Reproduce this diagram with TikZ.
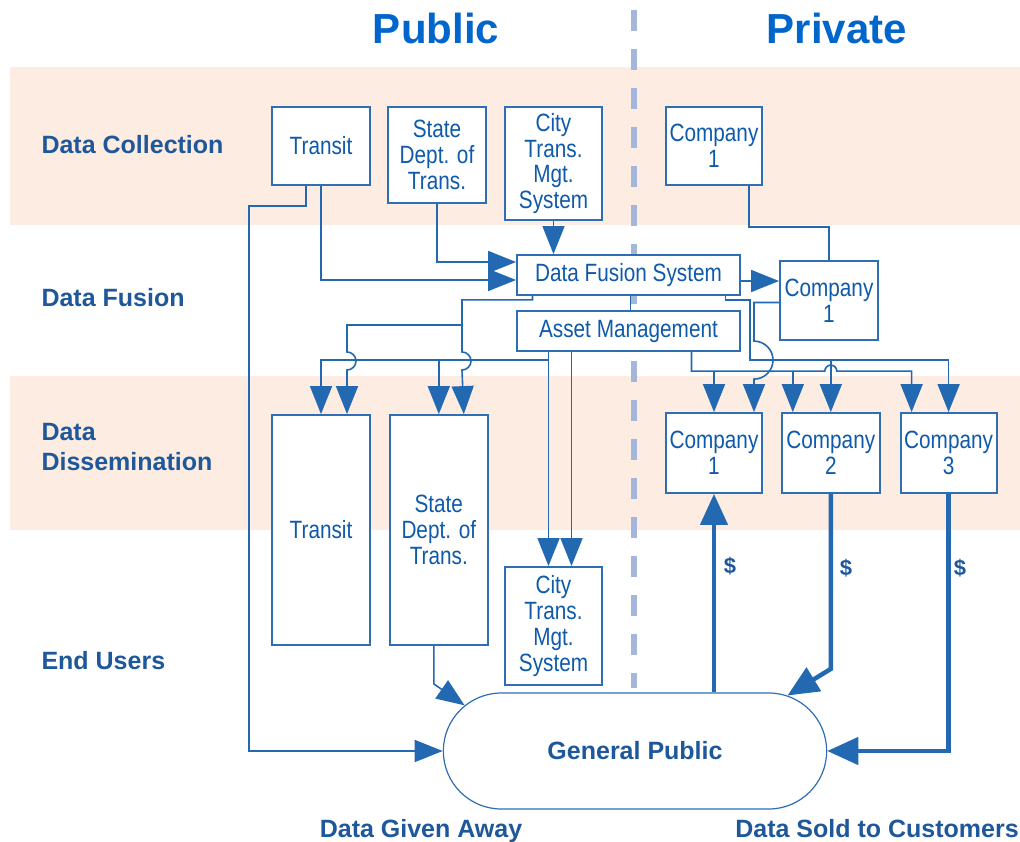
\documentclass[tikz,border=0pt]{standalone}
\usepackage{fontspec}
\setmainfont{Liberation Sans}
\newfontfamily\boxfont[FakeStretch=0.83]{Liberation Sans}
\usetikzlibrary{positioning}
\usetikzlibrary{arrows.meta}
\usetikzlibrary{shapes.misc}
\definecolor{band}{RGB}{253,236,225}
\definecolor{divider}{RGB}{164,182,220}
\definecolor{boxline}{RGB}{45,110,180}
\definecolor{boxtext}{RGB}{15,90,170}
\definecolor{flowline}{RGB}{35,105,178}
\definecolor{rowtext}{RGB}{30,88,155}
\definecolor{headtext}{RGB}{0,102,204}

\begin{document}
\begin{tikzpicture}[x=1pt, y=-1pt, node distance=18pt,
  >={Triangle[width=22pt,length=28pt]},
  box/.style 2 args={draw=boxline, line width=1.8pt, fill=white, inner sep=0pt, align=center,
    text=boxtext, font=\boxfont\fontsize{25}{25.7}\selectfont,
    minimum width=#1pt, minimum height=#2pt},
  flow/.style={draw=flowline, line width=1.6pt, ->},
  link/.style={draw=flowline, line width=1.6pt},
  money/.style={draw=flowline, line width=4.5pt, >={Triangle[width=27pt,length=31pt]}},
  rowlabel/.style={anchor=west, align=left, text=rowtext, font=\bfseries\fontsize{25}{30}\selectfont},
  head/.style={text=headtext, font=\bfseries\fontsize{42}{48}\selectfont},
  foot/.style={anchor=base, text=rowtext, font=\bfseries\fontsize{25}{30}\selectfont},
  dollar/.style={text=rowtext, font=\bfseries\fontsize{22}{26}\selectfont}]
\useasboundingbox (0,0) rectangle (1020,842);

% bands and divider
\fill[band] (10,67) rectangle (1020,225);
\fill[band] (10,376) rectangle (1020,530);
\draw[divider, line width=6pt, dash pattern=on 21pt off 18pt] (634,10) -- (634,688);

% headings
\node[head] (public-head) at (436,28) {Public};
\node[head] (private-head) at (837,28) {Private};

\node[rowlabel] (row-collect) at (38,145) {Data Collection};
\node[rowlabel] (row-fusion) at (38,298) {Data Fusion};
\node[rowlabel] (row-dissem) at (38,447) {Data\\Dissemination};
\node[rowlabel] (row-users) at (38,661) {End Users};

\node[foot] (given) at (421,837) {Data Given Away};
\node[foot] (sold) at (877,837) {Data Sold to Customers};

%%%%%%%%%%%%%%%%%%%%%%%% boxes
% data collection
\node[box={98}{78}] (transitA) at (321,146) {Transit};
\node[box={98}{96}] (stateA) at (437,155) {State\\Dept. of\\Trans.};
\node[box={97}{113}] (cityA) at (553.5,163.5) {City\\Trans.\\Mgt.\\System};
\node[box={96}{78}] (compA) at (714,146) {Company\\1};

% data fusion
\node[box={223}{40}] (fusion) at (628.5,275) {Data Fusion System};
\node[box={223}{40}] (asset) at (628.5,331) {Asset Management};
\node[box={98}{79}] (compB) at (829,300.5) {Company\\1};

% dissemination
\node[box={98}{230}] (transitC) at (321,530) {Transit};
\node[box={98}{230}, right=of transitC] (stateC) {State\\Dept. of\\Trans.};
\node[box={97}{118}] (cityC) at (553.5,626) {City\\Trans.\\Mgt.\\System};
\node[box={96}{80}] (comp1) at (714,453) {Company\\1};
\node[box={98}{80}, right=of comp1] (comp2) {Company\\2};
\node[box={96}{80}, right=19pt of comp2] (comp3) {Company\\3};

% end users
\node[rounded rectangle, draw=boxline, line width=1.2pt, fill=white,
  minimum width=390pt, minimum height=116pt, text=rowtext,
  font=\bfseries\fontsize{25}{30}\selectfont] (public) at (635,751) {General Public};

%%%%%%%%%%%%%%%%%%%%%%%% connectors
% into data fusion
\draw[flow] ([xshift=-15pt]transitA.south) -- ++(0,20) -| ([xshift=-194pt]public.west) -- (public.west);
\draw[flow] (transitA.south) |- ([yshift=-5pt]fusion.west);
\draw[flow] (stateA.south) |- ([yshift=13pt]fusion.west);
\draw[flow] (cityA.south) -- (cityA.south |- fusion.north);
\draw[link] ([xshift=35pt]compA.south) -- ++(0,41) -| (compB.north);
\draw[flow] ([yshift=-6pt]fusion.east) -- ([yshift=-6pt]fusion.east -| compB.west);
\draw[link] ([xshift=2pt]fusion.south) -- ([xshift=2pt]asset.north);

% fusion to public side
\draw[flow] ([xshift=-96pt]fusion.south) -- ++(0,4) -| (462,352)
  arc[start angle=-90, end angle=90, radius=9] -- ([xshift=25pt]stateC.north);
\draw[flow] (462,325) -| (347,352)
  arc[start angle=-90, end angle=90, radius=9] -- ([xshift=26pt]transitC.north);

% asset management to public side
\draw[flow] ([xshift=-80pt]asset.south) |- ([yshift=54pt]transitC.north) -- (transitC.north);
\draw[flow] ([yshift=54pt]stateC.north) -- (stateC.north);
\draw[flow] ([xshift=-80pt]asset.south) -- ([xshift=-5pt]cityC.north);
\draw[flow] ([xshift=-57pt]asset.south) -- ([xshift=18pt]cityC.north);

% fusion to companies
\draw[flow] ([xshift=97pt]fusion.south) -- ++(0,4) -| ([yshift=52pt,xshift=-81pt]comp2.north) -| (comp3.north);
\draw[flow] ([yshift=52pt]comp2.north) -- (comp2.north);

% asset management to companies
\draw[flow] ([xshift=63pt]asset.south) |- ([yshift=41pt,xshift=-6pt]comp2.north)
  arc[start angle=180, end angle=360, radius=6] -| ([xshift=-37pt]comp3.north);
\draw[flow] ([yshift=41pt]comp1.north) -- (comp1.north);
\draw[flow] ([yshift=41pt,xshift=-38pt]comp2.north) -- ([xshift=-38pt]comp2.north);

% company 1 to company 1
\draw[flow] ([yshift=-2pt]compB.west) -| ([yshift=71pt,xshift=40pt]comp1.north)
  arc[start angle=-90, end angle=90, radius=19] -- ([xshift=40pt]comp1.north);

% to general public
\draw[flow] ([xshift=-5pt]stateC.south) -- ++(0,38) -- (public.165);
\draw[money,<-] (comp1.south) -- (comp1.south |- public.north);
\draw[money,->] (comp2.south) -- ++(0,175) -- (public.20);
\draw[money,->] (comp3.south) |- (public.east);

\node[dollar] (pay1) at (730,566) {\$};
\node[dollar] (pay2) at (846,568) {\$};
\node[dollar] (pay3) at (960,568) {\$};

\end{tikzpicture}
\end{document}
